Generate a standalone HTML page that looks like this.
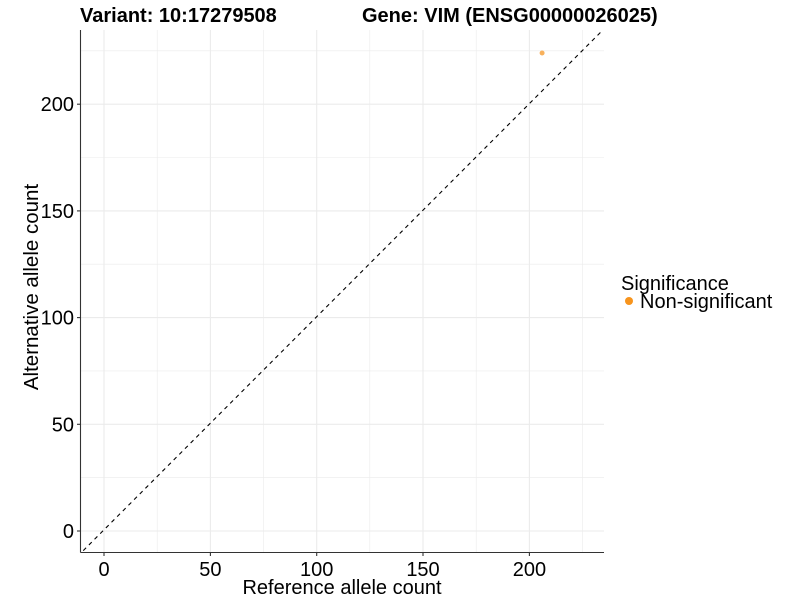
<!DOCTYPE html>
<html><head><meta charset="utf-8"><style>
html,body{margin:0;padding:0;background:#fff;}
text{font-family:"Liberation Sans",Arial,sans-serif;}
</style></head><body>
<svg width="800" height="600" viewBox="0 0 800 600" xmlns="http://www.w3.org/2000/svg">
<defs><clipPath id="c"><rect x="80.5" y="30" width="523.5" height="522.5"/></clipPath></defs>
<g stroke="#ebebeb" stroke-width="0.6">
<line x1="157.2" y1="30" x2="157.2" y2="552.5"/><line x1="263.5" y1="30" x2="263.5" y2="552.5"/><line x1="369.8" y1="30" x2="369.8" y2="552.5"/><line x1="476.2" y1="30" x2="476.2" y2="552.5"/><line x1="582.5" y1="30" x2="582.5" y2="552.5"/>
<line x1="80.5" y1="477.6" x2="604" y2="477.6"/><line x1="80.5" y1="370.9" x2="604" y2="370.9"/><line x1="80.5" y1="264.2" x2="604" y2="264.2"/><line x1="80.5" y1="157.5" x2="604" y2="157.5"/><line x1="80.5" y1="50.8" x2="604" y2="50.8"/>
</g>
<g stroke="#ebebeb" stroke-width="1.1">
<line x1="104" y1="30" x2="104" y2="552.5"/><line x1="210.4" y1="30" x2="210.4" y2="552.5"/><line x1="316.7" y1="30" x2="316.7" y2="552.5"/><line x1="423" y1="30" x2="423" y2="552.5"/><line x1="529.4" y1="30" x2="529.4" y2="552.5"/>
<line x1="80.5" y1="531" x2="604" y2="531"/><line x1="80.5" y1="424.3" x2="604" y2="424.3"/><line x1="80.5" y1="317.6" x2="604" y2="317.6"/><line x1="80.5" y1="210.9" x2="604" y2="210.9"/><line x1="80.5" y1="104.2" x2="604" y2="104.2"/>
</g>
<g clip-path="url(#c)">
<line x1="55" y1="578.9" x2="640" y2="-7.2" stroke="#000" stroke-width="1.1" stroke-dasharray="4,4"/>
</g>
<circle cx="542.1" cy="53" r="2.5" fill="#f7a340" opacity="0.85"/>
<g stroke="#333" stroke-width="1.1">
<line x1="80.5" y1="30" x2="80.5" y2="552.5"/><line x1="80.5" y1="552.5" x2="604" y2="552.5"/>
<line x1="104" y1="552.5" x2="104" y2="556"/><line x1="210.4" y1="552.5" x2="210.4" y2="556"/><line x1="316.7" y1="552.5" x2="316.7" y2="556"/><line x1="423" y1="552.5" x2="423" y2="556"/><line x1="529.4" y1="552.5" x2="529.4" y2="556"/>
<line x1="77" y1="531" x2="80.5" y2="531"/><line x1="77" y1="424.3" x2="80.5" y2="424.3"/><line x1="77" y1="317.6" x2="80.5" y2="317.6"/><line x1="77" y1="210.9" x2="80.5" y2="210.9"/><line x1="77" y1="104.2" x2="80.5" y2="104.2"/>
</g>
<g font-size="20" fill="#000" text-anchor="middle">
<text x="104" y="576">0</text><text x="210.4" y="576">50</text><text x="316.7" y="576">100</text><text x="423" y="576">150</text><text x="529.4" y="576">200</text>
</g>
<g font-size="20" fill="#000" text-anchor="end">
<text x="74" y="538">0</text><text x="74" y="431.3">50</text><text x="74" y="324.6">100</text><text x="74" y="217.9">150</text><text x="74" y="111.2">200</text>
</g>
<text x="342" y="594" font-size="20" text-anchor="middle">Reference allele count</text>
<text transform="translate(38,287) rotate(-90)" font-size="20.5" text-anchor="middle">Alternative allele count</text>
<text x="80" y="22" font-size="20" font-weight="bold">Variant: 10:17279508</text>
<text x="362" y="22" font-size="20" font-weight="bold">Gene: VIM (ENSG00000026025)</text>
<text x="621" y="290" font-size="20">Significance</text>
<circle cx="629" cy="301" r="4" fill="#f7941d"/>
<text x="640" y="308" font-size="20">Non-significant</text>
</svg>
</body></html>
